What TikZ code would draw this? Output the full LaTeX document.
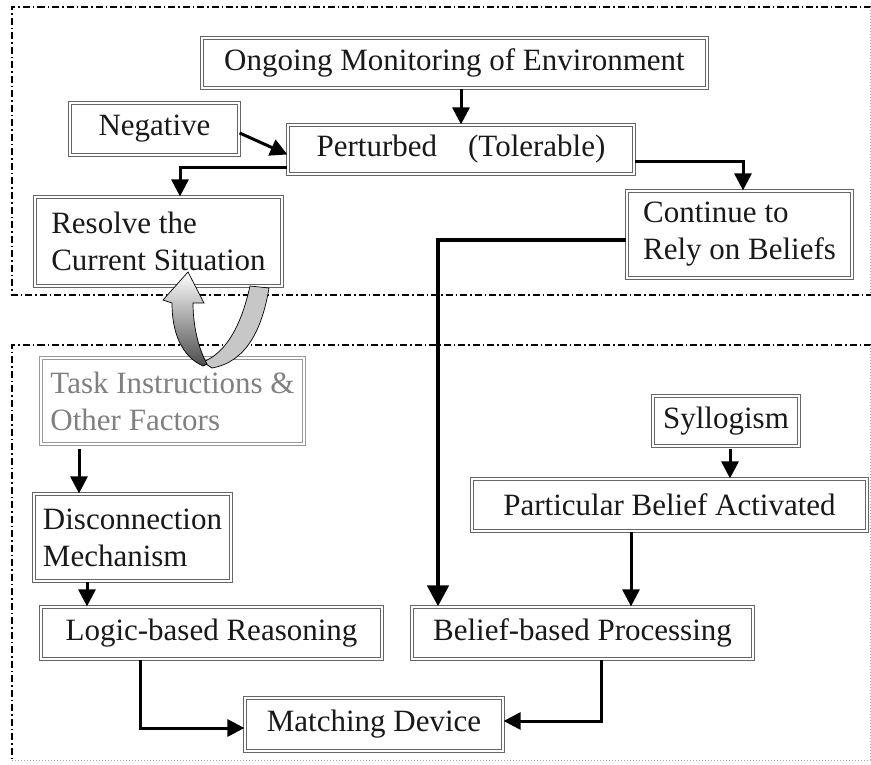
\documentclass[tikz,border=0pt]{standalone}
\usepackage{fontspec}
\setmainfont{Liberation Serif}
\usetikzlibrary{arrows.meta,calc}
\begin{document}
\begin{tikzpicture}[x=1pt,y=-1pt,
  box/.style={draw=black!60, line width=1.2pt, double=white, double distance=1.4pt,
    fill=white, inner sep=0pt, font=\fontsize{31}{37}\selectfont, text=black!90},
  greybox/.style={box, draw=black!40, text=black!50},
  arr/.style={line width=3pt, -{Triangle[length=17pt,width=17pt]}},
  thickarr/.style={line width=4.5pt, -{Triangle[length=21pt,width=21pt]}},
  frame/.style={line width=1.3pt, dash pattern=on 7pt off 3pt on 1.5pt off 3pt},
  faint/.style={line width=1pt, black!35, dotted}]
\useasboundingbox (0,0) rectangle (871,765);

% dash-dot frames of the two stages
\draw[frame] (871,7) -- (12,7) -- (12,295) -- (871,295);
\draw[faint] (870,7) -- (870,295);
\draw[frame] (871,345) -- (12,345) -- (12,760);
\draw[faint] (12,760) -- (870,760) -- (870,345);

% boxes
\node[box, minimum width=505pt, minimum height=50pt] (ong) at (454.5,63) {Ongoing Monitoring of Environment};
\node[box, minimum width=169pt, minimum height=52pt] (neg) at (154.5,129) {Negative};
\node[box, minimum width=346pt, minimum height=49pt] (per) at (461,149.5) {Perturbed\quad(Tolerable)};
\node[box, minimum width=247pt, minimum height=89pt, align=left] (res) at (158.5,241.5) {Resolve the\\Current Situation};
\node[box, minimum width=225pt, minimum height=87pt, align=left] (con) at (739.5,234.5) {Continue to\\Rely on Beliefs};
\node[greybox, minimum width=263pt, minimum height=86pt, align=left] (task) at (172.5,401) {Task Instructions \&\\Other Factors};
\node[box, minimum width=197pt, minimum height=87pt, align=left] (disc) at (132.5,537.5) {Disconnection\\Mechanism};
\node[box, minimum width=341pt, minimum height=52pt] (log) at (211.5,633) {Logic-based Reasoning};
\node[box, minimum width=341pt, minimum height=52pt] (bel) at (582.5,633) {Belief-based Processing};
\node[box, minimum width=258pt, minimum height=53pt] (mat) at (374,724.5) {Matching Device};
\node[box, minimum width=146pt, minimum height=50pt] (syl) at (726,421) {Syllogism};
\node[box, minimum width=395pt, minimum height=52pt] (par) at (669.5,505) {Particular Belief Activated};

% connectors
\draw[arr] (ong.south -| per.north) -- (per.north);
\draw[arr] ([yshift=-4pt]neg.east) -- ([yshift=-5pt]per.west);
\draw[arr] ([yshift=-18.5pt]per.west) -| ([xshift=21.5pt]res.north);
\draw[arr] ([yshift=-12pt]per.east) -| ([xshift=3.5pt]con.north);
\draw[thickarr] ([yshift=-5.5pt]con.west) -| ([xshift=-144.5pt]bel.north);

\coordinate (t1) at ([xshift=-93.5pt,yshift=-4pt]task.south);
\draw[arr] (t1) -- (t1 |- disc.north);
\coordinate (d1) at ([xshift=-45.5pt]disc.south);
\draw[arr] (d1) -- (d1 |- log.north);
\coordinate (s1) at ([xshift=4pt,yshift=-2pt]syl.south);
\draw[arr] (s1) -- (s1 |- par.north);
\coordinate (p1) at ([xshift=-38.5pt]par.south);
\draw[arr] (p1) -- (p1 |- bel.north);
\draw[arr] ([xshift=-71.5pt]log.south) |- ([yshift=-3.5pt]mat.west);
\draw[arr] ([xshift=18.5pt]bel.south) |- ([yshift=3.5pt]mat.east);

% curved ribbon arrow looping back to the upper stage
\draw[line width=0.7pt, fill=black!22]
  (250,286) .. controls (242,322) and (228,352) .. (203,362)
  -- (212,368) .. controls (246,362) and (262,330) .. (269,288) -- cycle;
\draw[line width=0.7pt, top color=white, bottom color=black!70]
  (207,364) .. controls (197,346) and (193,322) .. (193,303)
  -- (204,303) -- (188,272) -- (163,300) -- (172,303)
  .. controls (172,332) and (181,356) .. (203,366) -- cycle;
\end{tikzpicture}
\end{document}
